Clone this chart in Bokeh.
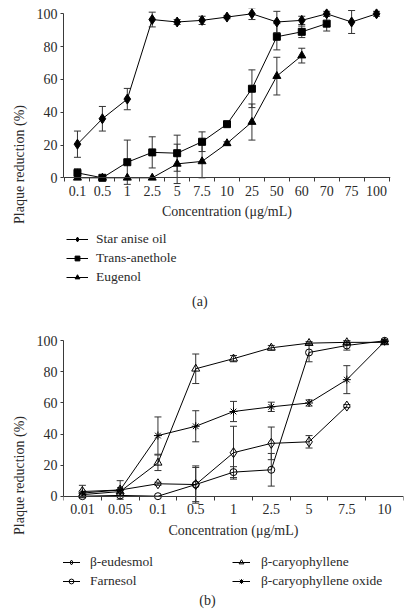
from bokeh.plotting import figure
from bokeh.models import (ColumnDataSource, Whisker, TeeHead, FixedTicker, Legend,
                          LegendItem, Range1d, Label)
from bokeh.layouts import column
from bokeh.embed import file_html
from bokeh.resources import INLINE

# ---------------- data (a) ----------------
conc_a = ["0.1", "0.5", "1", "2.5", "5", "7.5", "10", "25", "50", "60", "70", "75", "100"]
star_anise = [20.5, 36, 48, 96.5, 95, 96, 98, 100, 95, 96, 100, 95, 100]
star_anise_err = [8, 7.5, 6.5, 4.5, 1.5, 2.5, 1, 3.5, 6.5, 2.5, 1.5, 7, 1.5]
anethole = [3, 0, 9.5, 15.5, 15, 22, 32.7, 54.3, 86, 89, 94]
anethole_err = [2.5, 0, 13.5, 9.5, 11, 6, 1, 11.5, 8, 3.5, 4.5]
eugenol = [0, 0, 0, 0, 8.5, 10, 21, 34, 62, 74.5]
eugenol_err = [0, 0, 0, 0, 12, 10, 1, 11, 11.5, 4.5]

# ---------------- data (b) ----------------
conc_b = ["0.01", "0.05", "0.1", "0.5", "1", "2.5", "5", "7.5", "10"]
eudesmol = [3, 4, 8, 7.5, 28, 34, 35, 58]
eudesmol_err = [4, 6, 1, 12, 17, 10.5, 4, 1]
farnesol = [0, 0.5, 0, 7.5, 15.5, 17, 92.5, 97, 100]
farnesol_err = [0, 0, 0, 11, 3.5, 10.5, 6, 3, 0.5]
caryophyllene = [1, 3, 21.5, 82, 88.5, 95.5, 98.5, 99, 99]
caryophyllene_err = [0, 0, 5, 9.5, 2, 1.5, 1, 1, 0.5]
oxide = [2, 4, 39, 45, 54.5, 57.5, 60, 75, 99.5]
oxide_err = [0, 0, 12, 10, 6.5, 3, 2, 9, 0.5]

y_ticks = [0, 20, 40, 60, 80, 100]

FONT = "Liberation Serif"
TXT = "#2a2a2a"
AX = "#3a3a3a"


def make_fig(cats, frame_w, frame_h, left, right, top, xpad, y0, y1):
    n = len(cats)
    p = figure(frame_width=frame_w, frame_height=frame_h,
               min_border_left=left, min_border_right=right,
               min_border_top=top, min_border_bottom=0,
               x_range=Range1d(-xpad, n - 1 + xpad), y_range=Range1d(y0, y1),
               output_backend="svg", toolbar_location=None, title=None)
    p.grid.visible = False
    p.outline_line_color = None
    p.background_fill_color = "white"
    p.border_fill_color = "white"
    xa = p.xaxis[0]
    xa.fixed_location = 0
    xa.ticker = FixedTicker(ticks=list(range(n)),
                            minor_ticks=[i - 0.5 for i in range(n + 1)])
    xa.major_label_overrides = {i: c for i, c in enumerate(cats)}
    xa.major_tick_out = 0
    xa.major_tick_in = 0
    xa.minor_tick_out = 4
    xa.minor_tick_in = 0
    xa.major_label_standoff = 4
    xa.axis_label = "Concentration (μg/mL)"
    xa.axis_label_standoff = 5
    ya = p.yaxis[0]
    ya.bounds = (0, 100)
    ya.ticker = FixedTicker(ticks=y_ticks)
    ya.major_tick_out = 3
    ya.major_tick_in = 0
    ya.minor_tick_out = 0
    ya.minor_tick_in = 0
    ya.major_label_standoff = 3
    ya.axis_label = "Plaque reduction (%)"
    ya.axis_label_standoff = 7
    for ax in (xa, ya):
        ax.axis_line_color = AX
        ax.major_tick_line_color = AX
        ax.minor_tick_line_color = AX
        ax.major_label_text_font = FONT
        ax.major_label_text_font_size = "14px"
        ax.major_label_text_color = TXT
        ax.axis_label_text_font = FONT
        ax.axis_label_text_font_size = "14px"
        ax.axis_label_text_font_style = "normal"
        ax.axis_label_text_color = TXT
    return p


def marker_style(filled):
    if filled:
        return dict(fill_color="black", line_color="black")
    return dict(fill_alpha=0, line_color="black", line_width=1)


def add_series(p, vals, errs, marker, size, filled):
    xs = list(range(len(vals)))
    src = ColumnDataSource(dict(x=xs, y=vals))
    ln = p.line("x", "y", source=src, line_color="black", line_width=1)
    ex = [x for x, e in zip(xs, errs) if e > 0]
    ey = [v for v, e in zip(vals, errs) if e > 0]
    ee = [e for e in errs if e > 0]
    esrc = ColumnDataSource(dict(x=ex, lo=[v - e for v, e in zip(ey, ee)],
                                 hi=[v + e for v, e in zip(ey, ee)]))
    w = Whisker(source=esrc, base="x", lower="lo", upper="hi", dimension="height",
                line_color="#333333", line_width=1,
                upper_head=TeeHead(size=7, line_color="#333333", line_width=1),
                lower_head=TeeHead(size=7, line_color="#333333", line_width=1))
    p.add_layout(w)
    sc = p.scatter("x", "y", source=src, marker=marker, size=size, **marker_style(filled))
    return [ln, sc]


def make_legend(items, loc, glyph_w, standoff):
    return Legend(items=items, location=loc, orientation="vertical",
                  glyph_width=glyph_w, glyph_height=12, label_height=12,
                  label_standoff=standoff, spacing=3, padding=0, margin=0,
                  border_line_color=None, background_fill_alpha=0,
                  label_text_font=FONT, label_text_font_size="13.5px",
                  label_text_color=TXT)


def caption(text, x, y):
    return Label(x=x, y=y, x_units="screen", y_units="screen", text=text,
                 text_align="center", text_baseline="middle", text_font=FONT,
                 text_font_size="14px", text_color=TXT)


# ---------------- chart (a) ----------------
pa = make_fig(conc_a, 327, 312, 63, 15, 8, 0.56, -87.01, 103.23)
r_star = add_series(pa, star_anise, star_anise_err, "diamond", 10, True)
r_anet = add_series(pa, anethole, anethole_err, "square", 7, True)
r_eug = add_series(pa, eugenol, eugenol_err, "triangle", 8, True)
pa.add_layout(make_legend([LegendItem(label="Star anise oil", renderers=r_star),
                           LegendItem(label="Trans-anethole", renderers=r_anet),
                           LegendItem(label="Eugenol", renderers=r_eug)],
                          (3, 35), 22, 8))
pa.add_layout(caption("(a)", 136.3, 19.3))

# ---------------- chart (b) ----------------
pb = make_fig(conc_b, 340, 280, 56, 9, 15, 0.5, -76.77, 103.41)
r_eud = add_series(pb, eudesmol, eudesmol_err, "diamond", 10, False)
r_far = add_series(pb, farnesol, farnesol_err, "circle", 7, False)
r_car = add_series(pb, caryophyllene, caryophyllene_err, "triangle", 8, False)
r_oxi = add_series(pb, oxide, oxide_err, "asterisk", 8, False)
pb.add_layout(make_legend([LegendItem(label="β-eudesmol", renderers=r_eud),
                           LegendItem(label="Farnesol", renderers=r_far)],
                          (-1, 26), 18, 10))
pb.add_layout(make_legend([LegendItem(label="β-caryophyllene", renderers=r_car),
                           LegendItem(label="β-caryophyllene oxide", renderers=r_oxi)],
                          (169, 26), 18, 11))
pb.add_layout(caption("(b)", 144, 15))

layout = column(pa, pb, spacing=0)
open("out.html", "w").write(file_html(layout, INLINE))
